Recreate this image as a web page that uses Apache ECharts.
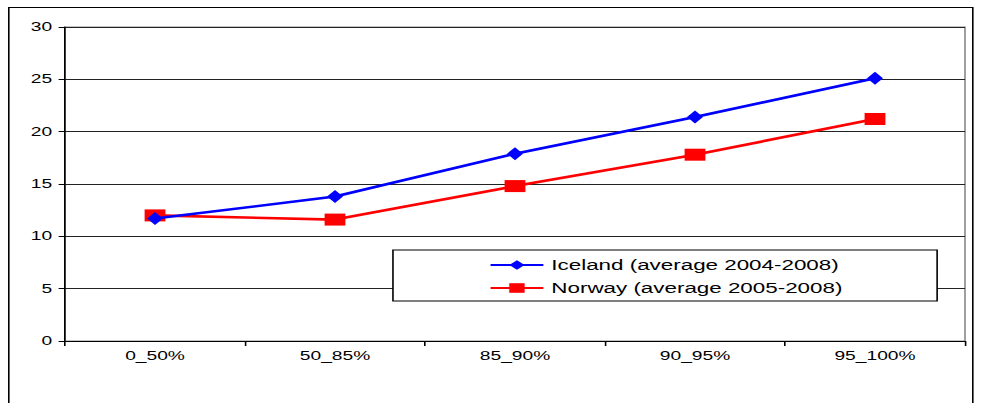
<!DOCTYPE html>
<html><head><meta charset="utf-8">
<script src="https://cdn.jsdelivr.net/npm/echarts@6/dist/echarts.min.js"></script>
<style>
html,body{margin:0;padding:0;background:#fff;overflow:hidden}
#wrap{width:986px;height:403px;overflow:hidden}
#c{width:616.25px;height:403px;transform:scaleX(1.6);transform-origin:0 0}
</style>
</head><body><div id="wrap"><div id="c"></div></div>
<script>
const categories = ['0_50%', '50_85%', '85_90%', '90_95%', '95_100%'];
const iceland = [11.7, 13.8, 17.9, 21.4, 25.1];
const norway = [12.0, 11.6, 14.8, 17.8, 21.2];
const seriesNames = ['Iceland (average 2004-2008)', 'Norway (average 2005-2008)'];

const chart = echarts.init(document.getElementById('c'), null, {renderer: 'svg', width: 616.25, height: 403});
chart.setOption({
  animation: false,
  backgroundColor: '#fff',
  textStyle: {fontFamily: 'Liberation Sans, Arial, sans-serif'},
  graphic: [{
    type: 'rect', shape: {x: 5.5, y: 7.5, width: 602.5, height: 420},
    style: {fill: null, stroke: '#000', lineWidth: 1}, silent: true, z: 0
  }],
  grid: {left: 40.625, right: 13.125, top: 27, bottom: 62, show: true, borderColor: '#888', borderWidth: 1},
  xAxis: {
    type: 'category', data: categories, boundaryGap: true,
    axisLine: {lineStyle: {color: '#000', width: 1}},
    axisTick: {show: true, length: 5, lineStyle: {color: '#000'}},
    axisLabel: {color: '#000', fontSize: 12, margin: 9, fontFamily: 'Liberation Sans'},
    splitLine: {show: false}
  },
  yAxis: {
    type: 'value', min: 0, max: 30, interval: 5,
    axisLine: {show: true, lineStyle: {color: '#000', width: 1}},
    axisTick: {show: true, length: 4, lineStyle: {color: '#000'}},
    axisLabel: {color: '#000', fontSize: 12, margin: 8, fontFamily: 'Liberation Sans'},
    splitLine: {show: true, lineStyle: {color: '#222', width: 1}}
  },
  legend: {
    orient: 'vertical', left: 245.6, top: 250,
    backgroundColor: '#fff', borderColor: '#000', borderWidth: 1,
    padding: [8, 59, 6, 60], itemGap: 9, itemWidth: 33, itemHeight: 12,
    textStyle: {color: '#000', fontSize: 14, fontFamily: 'Liberation Sans'},
    data: seriesNames
  },
  series: [
    {
      name: seriesNames[0], type: 'line', data: iceland,
      symbol: 'diamond', symbolSize: [10, 13],
      lineStyle: {color: '#0000ff', width: 2.6},
      itemStyle: {color: '#0000ff'}, z: 3
    },
    {
      name: seriesNames[1], type: 'line', data: norway,
      symbol: 'rect', symbolSize: [13, 12],
      lineStyle: {color: '#ff0000', width: 2.6},
      itemStyle: {color: '#ff0000'}, z: 2
    }
  ]
});
</script></body></html>
